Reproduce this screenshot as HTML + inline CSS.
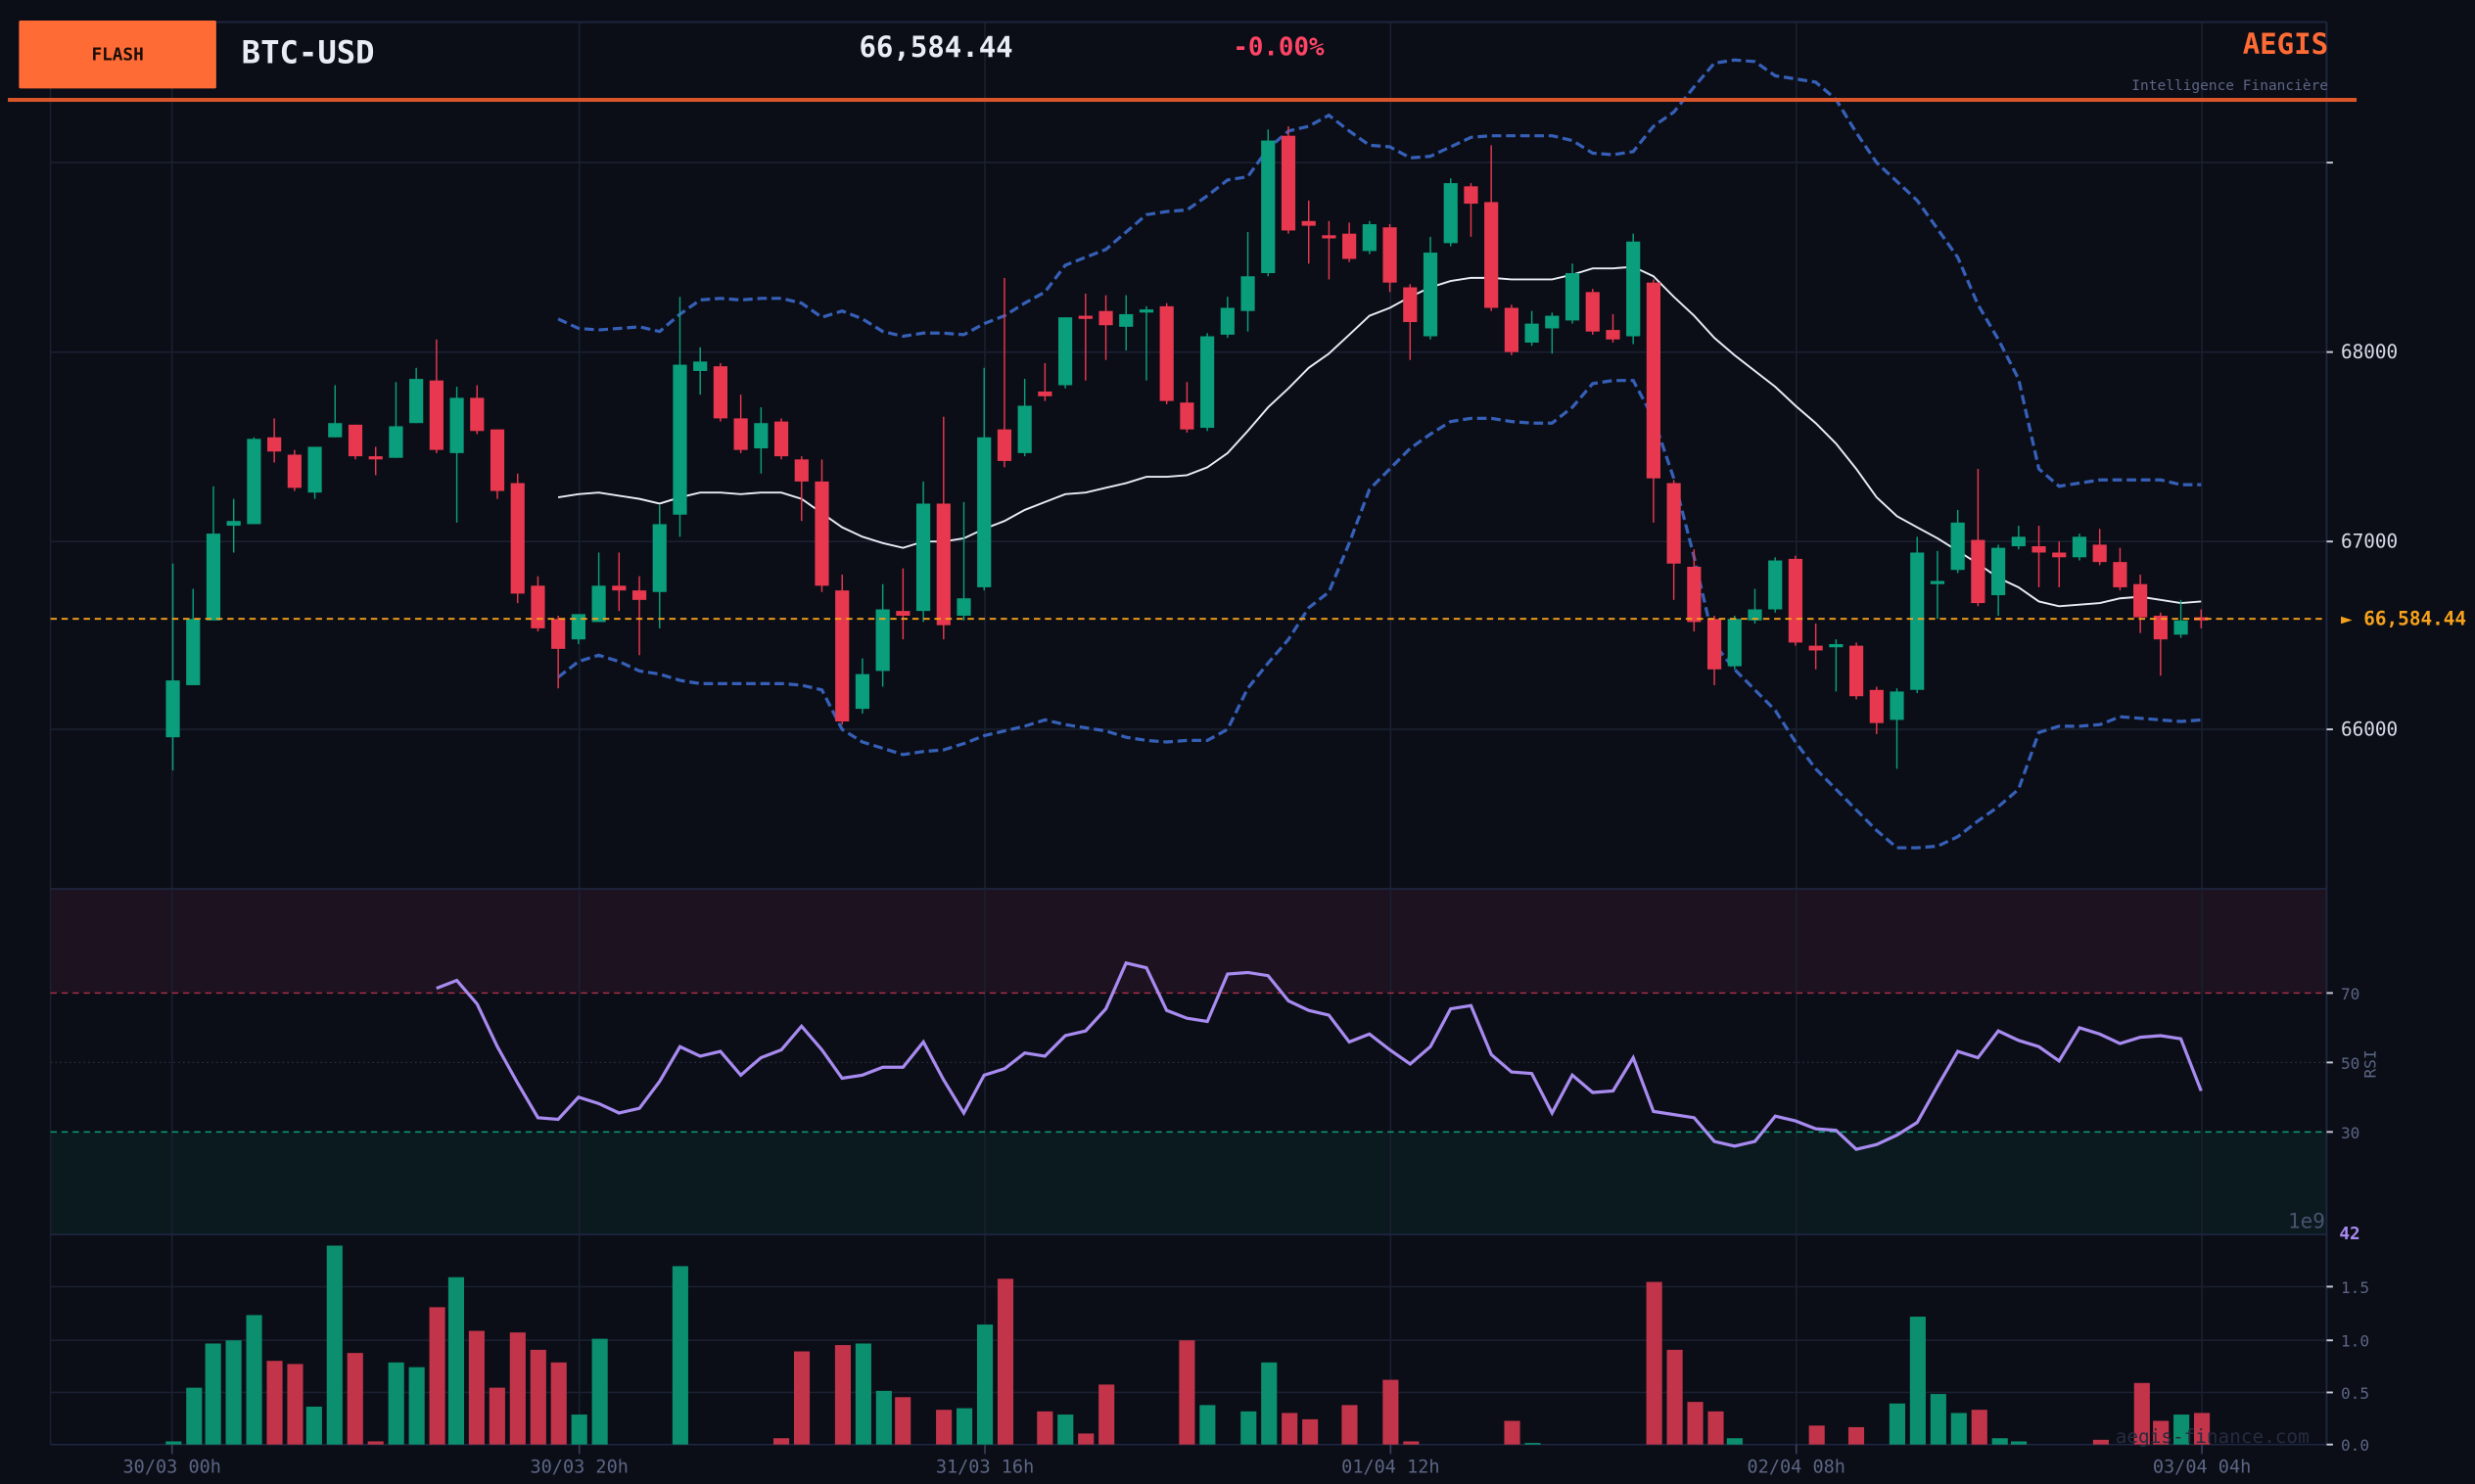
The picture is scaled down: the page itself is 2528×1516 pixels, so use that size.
<!DOCTYPE html>
<html><head><meta charset="utf-8"><style>
html,body{margin:0;padding:0;background:#0b0e17;}
svg{display:block;font-family:"DejaVu Sans Mono","Liberation Mono",monospace;}
</style></head><body>
<svg id="s" width="2528" height="1516" viewBox="0 0 1568 940" preserveAspectRatio="none" xmlns="http://www.w3.org/2000/svg">
<rect x="0" y="0" width="1568" height="940" fill="#0b0e17"/>
<rect x="32" y="563" width="1442" height="66" fill="#1c1220"/>
<rect x="32" y="717" width="1442" height="65" fill="#0a1a1e"/>
<g id="grid" stroke="#1a2030" stroke-width="1"></g>
<line x1="32" y1="14" x2="1474" y2="14" stroke="#1e2640" stroke-width="1.2"/>
<line x1="1474" y1="14" x2="1474" y2="915" stroke="#1e2640" stroke-width="1.2"/>
<line x1="32" y1="14" x2="32" y2="915" stroke="#1a2030" stroke-width="1"/>
<line x1="32" y1="563" x2="1474" y2="563" stroke="#1e2640" stroke-width="1"/>
<line x1="32" y1="782" x2="1474" y2="782" stroke="#1e2640" stroke-width="1"/>
<line x1="32" y1="915" x2="1474" y2="915" stroke="#1e2640" stroke-width="1"/>
<line x1="32" y1="629" x2="1474" y2="629" stroke="#b03048" stroke-width="0.9" stroke-dasharray="4,3"/>
<line x1="32" y1="717" x2="1474" y2="717" stroke="#0f9a78" stroke-width="0.9" stroke-dasharray="4,3"/>
<line x1="32" y1="673" x2="1474" y2="673" stroke="#2a3040" stroke-width="0.8" stroke-dasharray="1,2"/>
<g id="vol"></g>
<g id="bb" fill="none"></g>
<g id="candles"></g>
<line x1="32" y1="392" x2="1474" y2="392" stroke="#f7a21b" stroke-width="1.2" stroke-dasharray="4,3"/>
<text x="1483" y="396" fill="#f7a21b" font-size="12" font-weight="bold">► 66,584.44</text>
<g id="axis" fill="#5c6584" font-size="11.5"></g>
<text x="1505" y="674" fill="#5c6584" font-size="10" transform="rotate(-90 1505 674)" text-anchor="middle">RSI</text>
<text x="1473" y="778" fill="#4a5270" font-size="13" text-anchor="end">1e9</text>
<text x="1482" y="785" fill="#a88bf0" font-size="11" font-weight="bold">42</text>
<text x="1463" y="914" fill="#262c40" font-size="12" text-anchor="end">aegis-finance.com</text>
<rect x="12" y="13" width="125" height="43" rx="1" fill="#ff6b35"/>
<text x="74.5" y="38" fill="#1a0e08" font-size="11" font-weight="bold" text-anchor="middle">FLASH</text>
<text x="153" y="40" fill="#e8ecf4" font-size="20" font-weight="bold">BTC-USD</text>
<text x="593" y="36" fill="#e8ecf4" font-size="18" font-weight="bold" text-anchor="middle">66,584.44</text>
<text x="810" y="35" fill="#ff4466" font-size="16" font-weight="bold" text-anchor="middle">-0.00%</text>
<text x="1475" y="34" fill="#ff6b35" font-size="18" font-weight="bold" text-anchor="end">AEGIS</text>
<text x="1475" y="57" fill="#5c6584" font-size="9" text-anchor="end">Intelligence Financière</text>
<rect x="5" y="62" width="1488" height="2.5" fill="#d9552a"/>
</svg>
<script>
var NS="http://www.w3.org/2000/svg";
function el(p,t,a,txt){var e=document.createElementNS(NS,t);for(var k in a)e.setAttribute(k,a[k]);if(txt)e.textContent=txt;document.getElementById(p).appendChild(e);return e;}
var G="#0b9e7c",R="#e8384f";
[109,367,624,881,1138,1395].forEach(function(x){el("grid","line",{x1:x,y1:14,x2:x,y2:915});});
[103,223,343,462].forEach(function(y){el("grid","line",{x1:32,y1:y,x2:1474,y2:y});});
[815,849,882].forEach(function(y){el("grid","line",{x1:32,y1:y,x2:1474,y2:y});});
[[103,""],[223,"68000"],[343,"67000"],[462,"66000"],[629,"70"],[673,"50"],[717,"30"],[815,"1.5"],[849,"1.0"],[882,"0.5"],[915,"0.0"]].forEach(function(a){
 el("axis","line",{x1:1474,y1:a[0],x2:1478,y2:a[0],stroke:"#c8ccd8","stroke-width":1.2});
 if(a[1]){var big=a[0]<560;el("axis","text",{x:1483,y:a[0]+4,"font-size":big?12:10,fill:big?"#d8dce8":"#5c6584"},a[1]);}
});
[[109,"30/03 00h"],[367,"30/03 20h"],[624,"31/03 16h"],[881,"01/04 12h"],[1138,"02/04 08h"],[1395,"03/04 04h"]].forEach(function(a){
 el("axis","line",{x1:a[0],y1:915,x2:a[0],y2:921,stroke:"#3a4260","stroke-width":1});
 el("axis","text",{x:a[0],y:933,"text-anchor":"middle","font-size":11.5},a[1]);
});
var C=[["g",431,467,357,488],["g",392,434,373,434],["g",338,393,308,393],["g",330,333,316,350],["g",278,332,277,332],["r",277,286,265,293],["r",288,309,285,311],["g",283,312,283,316],["g",268,277,244,277],["r",269,289,269,291],
["r",289,291,283,301],["g",270,290,242,290],["g",240,268,233,268],["r",241,285,215,287],["g",252,287,245,331],["r",252,273,244,275],["r",272,311,272,316],["r",306,376,300,382],["r",371,398,365,400],["r",392,411,390,436],
["g",389,405,389,408],["g",371,394,350,394],["r",371,374,350,387],["r",374,380,365,415],["g",332,375,320,398],["g",231,326,188,340],["g",229,235,220,250],["r",232,265,230,267],["r",265,285,250,287],["g",268,284,258,300],
["r",267,289,265,291],["r",291,305,289,330],["r",305,371,291,375],["r",374,457,364,459],["g",427,449,417,452],["g",386,425,370,435],["r",387,390,360,405],["g",319,387,305,394],["r",319,396,264,405],["g",379,390,318,393],
["g",277,372,233,374],["r",272,292,176,296],["g",257,287,240,289],["r",248,251,230,254],["g",201,244,201,246],["r",200,202,186,241],["r",197,206,187,228],["g",199,207,187,222],["g",196,198,194,241],["r",194,254,192,256],
["r",255,272,242,274],["g",213,271,211,273],["g",195,212,188,214],["g",175,197,147,210],["g",89,173,82,175],["r",86,146,80,148],["r",140,143,127,167],["r",149,151,140,177],["r",148,164,141,166],["g",142,159,140,161],
["r",144,179,142,185],["r",182,204,180,228],["g",160,213,150,215],["g",116,154,113,156],["r",118,129,116,150],["r",128,195,92,197],["r",195,223,193,225],["g",205,217,197,219],["g",200,208,198,224],["g",173,203,167,205],
["r",185,210,183,212],["r",209,215,199,217],["g",153,213,148,218],["r",179,303,177,331],["r",306,357,304,380],["r",359,394,348,400],["r",392,424,390,434],["g",392,422,390,424],["g",386,393,373,395],["g",355,386,353,388],
["r",354,407,352,409],["r",409,412,395,424],["g",408,410,405,438],["r",409,441,407,443],["r",437,458,435,465],["g",438,456,436,487],["g",350,437,340,439],["g",368,370,349,392],["g",331,361,323,363],["r",342,382,297,384],
["g",347,377,345,390],["g",340,346,333,348],["r",346,350,333,372],["r",350,353,343,372],["g",340,353,338,355],["r",345,356,335,358],["r",356,372,347,374],["r",370,391,364,401],["r",390,405,388,428],["g",393,402,380,404],["r",391,393,386,398]];
C.forEach(function(c,i){
 var x=109.5+12.85*i,col=c[0]=="g"?G:R;
 el("candles","line",{x1:x,y1:c[3],x2:x,y2:c[4],stroke:col,"stroke-width":0.9});
 var h=Math.max(c[2]-c[1],1.2);
 el("candles","rect",{x:x-4.4,y:c[1],width:8.8,height:h,fill:col});
});
var V=[[110,913,"g"],[123,879,"g"],[135,851,"g"],[148,849,"g"],[161,833,"g"],[174,862,"r"],[187,864,"r"],[199,891,"g"],[212,789,"g"],[225,857,"r"],[238,913,"r"],[251,863,"g"],[264,866,"g"],[277,828,"r"],[289,809,"g"],[302,843,"r"],[315,879,"r"],[328,844,"r"],[341,855,"r"],[354,863,"r"],[367,896,"g"],[380,848,"g"],[431,802,"g"],[495,911,"r"],[508,856,"r"],[534,852,"r"],[547,851,"g"],[560,881,"g"],[572,885,"r"],[598,893,"r"],[611,892,"g"],[624,839,"g"],[637,810,"r"],[662,894,"r"],[675,896,"g"],[688,908,"r"],[701,877,"r"],[752,849,"r"],[765,890,"g"],[791,894,"g"],[804,863,"g"],[817,895,"r"],[830,899,"r"],[855,890,"r"],[881,874,"r"],[894,913,"r"],[958,900,"r"],[971,914,"g"],[1048,812,"r"],[1061,855,"r"],[1074,888,"r"],[1087,894,"r"],[1099,911,"g"],[1151,903,"r"],[1176,904,"r"],[1202,889,"g"],[1215,834,"g"],[1228,883,"g"],[1241,895,"g"],[1254,893,"r"],[1267,911,"g"],[1279,913,"g"],[1331,912,"r"],[1357,876,"r"],[1369,900,"r"],[1382,896,"g"],[1395,895,"r"]];
V.forEach(function(v){el("vol","rect",{x:v[0]-5,y:v[1],width:10,height:915-v[1],fill:v[2]=="g"?"#0b8f6f":"#c2344a"});});
function pts(ys,start){return ys.map(function(y,i){return (109.5+12.85*(start+i)).toFixed(1)+","+y;}).join(" ");}
var up=[202,208,209,208,207,210,199,190,189,190,189,189,192,201,197,202,210,213,211,211,212,205,200,192,185,168,163,158,147,136,134,133,124,114,112,94,83,80,73,83,92,93,100,99,93,87,86,86,86,86,89,97,98,96,80,71,55,40,38,39,48,50,52,63,84,103,115,127,145,163,193,215,240,297,308,306,304,304,304,304,307,307];
var mid=[315,313,312,314,316,319,315,312,312,313,312,312,316,325,334,340,344,347,343,343,341,335,330,323,318,313,312,309,306,302,302,301,296,287,273,258,246,233,224,212,200,195,188,182,178,176,176,177,177,177,174,170,170,169,175,188,200,214,225,235,245,257,268,281,297,315,327,334,341,349,357,366,372,381,384,383,382,379,378,380,382,381];
var lo=[429,419,415,419,425,427,431,433,433,433,433,433,434,437,462,470,474,478,476,475,471,466,463,460,456,459,461,463,467,469,470,469,469,462,436,420,405,385,375,344,310,297,284,275,267,265,265,267,268,268,258,243,241,241,265,303,353,408,424,437,450,470,487,500,513,526,537,537,536,530,520,511,500,464,460,460,459,454,455,456,457,456];
el("bb","polyline",{points:pts(up,19),stroke:"#3660b8","stroke-width":2,"stroke-dasharray":"6,3"});
el("bb","polyline",{points:pts(lo,19),stroke:"#3660b8","stroke-width":2,"stroke-dasharray":"6,3"});
el("bb","polyline",{points:pts(mid,19),stroke:"#e8ecf4","stroke-width":1.2});
var rsi=[626,621,636,663,686,708,709,695,699,705,702,685,663,669,666,681,670,665,650,665,683,681,676,676,660,684,705,681,677,667,669,656,653,639,610,613,640,645,647,617,616,618,634,640,643,660,655,665,674,663,639,637,668,679,680,705,681,692,691,670,704,706,708,723,726,723,707,710,715,716,728,725,719,711,688,666,670,653,659,663,672,651,655,661,657,656,658,691];
el("bb","polyline",{points:pts(rsi,13),stroke:"#a88bf0","stroke-width":2});
</script>
</body></html>
